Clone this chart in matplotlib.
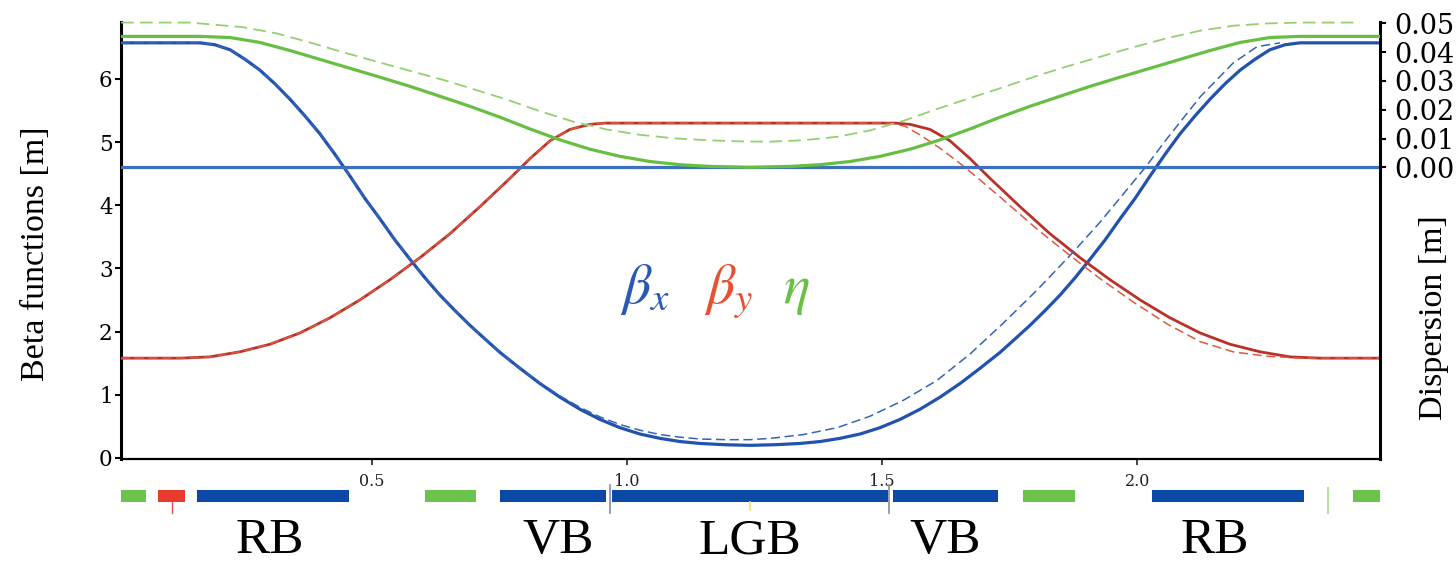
import matplotlib
matplotlib.use("Agg")
import matplotlib.pyplot as plt

# ---------------- data ----------------
# beta_x (solid)
s_bx = [0.008, 0.084, 0.163, 0.192, 0.222, 0.251, 0.280, 0.310, 0.339, 0.369, 0.398, 0.427,
        0.457, 0.486, 0.516, 0.545, 0.575, 0.604, 0.633, 0.663, 0.692, 0.722, 0.751, 0.790,
        0.829, 0.869, 0.908, 0.947, 0.986, 1.025, 1.065, 1.104, 1.143, 1.192, 1.241,
        1.290, 1.339, 1.378, 1.417, 1.457, 1.496, 1.535, 1.574, 1.613, 1.653, 1.692, 1.731,
        1.760, 1.790, 1.819, 1.849, 1.878, 1.907, 1.937, 1.966, 1.996, 2.025, 2.055, 2.084,
        2.113, 2.143, 2.172, 2.202, 2.231, 2.260, 2.290, 2.319, 2.398, 2.474]
beta_x = [6.57, 6.57, 6.57, 6.54, 6.46, 6.31, 6.14, 5.92, 5.68, 5.41, 5.13, 4.81,
          4.46, 4.11, 3.78, 3.45, 3.14, 2.85, 2.58, 2.33, 2.10, 1.88, 1.67, 1.42,
          1.18, 0.96, 0.77, 0.61, 0.48, 0.38, 0.31, 0.26, 0.23, 0.21, 0.20,
          0.21, 0.23, 0.26, 0.31, 0.38, 0.48, 0.61, 0.77, 0.96, 1.18, 1.42, 1.67,
          1.88, 2.10, 2.33, 2.58, 2.85, 3.14, 3.45, 3.78, 4.11, 4.46, 4.81, 5.13,
          5.41, 5.68, 5.92, 6.14, 6.31, 6.46, 6.54, 6.57, 6.57, 6.57]

# beta_x (dashed)
s_bx_d = [0.008, 0.084, 0.163, 0.192, 0.222, 0.251, 0.280, 0.310, 0.339, 0.369, 0.398, 0.427,
          0.457, 0.486, 0.516, 0.545, 0.575, 0.604, 0.633, 0.663, 0.692, 0.722, 0.751, 0.790,
          0.829, 0.869, 0.908, 0.947, 0.986, 1.025, 1.065, 1.104, 1.143, 1.192, 1.241,
          1.280, 1.345, 1.412, 1.476, 1.541, 1.608, 1.673, 1.737, 1.804, 1.869, 1.927,
          1.971, 2.016, 2.059, 2.124, 2.188, 2.235, 2.280]
beta_x_d = [6.57, 6.57, 6.57, 6.54, 6.46, 6.31, 6.14, 5.92, 5.68, 5.41, 5.13, 4.81,
            4.46, 4.11, 3.78, 3.45, 3.14, 2.85, 2.58, 2.33, 2.10, 1.88, 1.67, 1.42,
            1.19, 0.98, 0.80, 0.65, 0.53, 0.44, 0.37, 0.33, 0.30, 0.29, 0.29,
            0.31, 0.37, 0.48, 0.66, 0.91, 1.23, 1.65, 2.13, 2.66, 3.21, 3.73,
            4.16, 4.60, 5.06, 5.72, 6.25, 6.51, 6.57]

# beta_y (solid)
s_by = [0.008, 0.124, 0.182, 0.241, 0.300, 0.359, 0.418, 0.476, 0.535, 0.594, 0.653, 0.712,
        0.771, 0.810, 0.849, 0.888, 0.927, 0.957, 1.241,
        1.525, 1.555, 1.594, 1.633, 1.672, 1.711, 1.770, 1.829, 1.888, 1.947, 2.006, 2.064,
        2.123, 2.182, 2.241, 2.300, 2.358, 2.474]
beta_y = [1.58, 1.58, 1.60, 1.68, 1.80, 1.98, 2.22, 2.50, 2.82, 3.17, 3.55, 3.98,
          4.43, 4.74, 5.02, 5.20, 5.28, 5.30, 5.30,
          5.30, 5.28, 5.20, 5.02, 4.74, 4.43, 3.98, 3.55, 3.17, 2.82, 2.50, 2.22,
          1.98, 1.80, 1.68, 1.60, 1.58, 1.58]

# beta_y (dashed)
s_by_d = [0.008, 0.124, 0.182, 0.241, 0.300, 0.359, 0.418, 0.476, 0.535, 0.594, 0.653, 0.712,
          0.771, 0.810, 0.849, 0.888, 0.927, 0.957, 1.241,
          1.516, 1.545, 1.575, 1.614, 1.653, 1.692, 1.737, 1.804, 1.869, 1.927, 1.992,
          2.059, 2.124, 2.188, 2.255, 2.320, 2.474]
beta_y_d = [1.58, 1.58, 1.60, 1.68, 1.80, 1.98, 2.22, 2.50, 2.82, 3.17, 3.55, 3.98,
            4.43, 4.74, 5.02, 5.20, 5.28, 5.30, 5.30,
            5.30, 5.25, 5.11, 4.90, 4.66, 4.40, 4.09, 3.62, 3.20, 2.84, 2.47,
            2.12, 1.84, 1.68, 1.61, 1.58, 1.58]

# dispersion eta (solid)
s_eta = [0.008, 0.163, 0.222, 0.280, 0.339, 0.398, 0.457, 0.516, 0.575, 0.633, 0.692, 0.751,
         0.810, 0.869, 0.927, 0.986, 1.045, 1.104, 1.163, 1.241,
         1.319, 1.378, 1.437, 1.496, 1.555, 1.613, 1.672, 1.731, 1.790, 1.849, 1.907, 1.966,
         2.025, 2.084, 2.143, 2.202, 2.260, 2.319, 2.474]
eta = [0.0455, 0.0455, 0.0451, 0.0434, 0.0406, 0.0375, 0.0344, 0.0313, 0.0281, 0.0247, 0.0212,
       0.0174, 0.0133, 0.0095, 0.0063, 0.0038, 0.0020, 0.0009, 0.0003, 0.0,
       0.0003, 0.0009, 0.0020, 0.0038, 0.0063, 0.0095, 0.0133, 0.0174, 0.0212, 0.0247, 0.0281,
       0.0313, 0.0344, 0.0375, 0.0406, 0.0434, 0.0451, 0.0455, 0.0455]

# dispersion eta (dashed)
s_eta_d = [0.008, 0.143, 0.247, 0.314, 0.378, 0.443, 0.510, 0.575, 0.643, 0.698, 0.765, 0.829,
           0.894, 0.961, 1.025, 1.090, 1.157, 1.222, 1.280, 1.345, 1.412, 1.476, 1.541, 1.608,
           1.673, 1.737, 1.804, 1.869, 1.937, 1.992, 2.059, 2.124, 2.188, 2.255, 2.320, 2.437]
eta_d = [0.0503, 0.0503, 0.0487, 0.0465, 0.0434, 0.0400, 0.0367, 0.0335, 0.0302, 0.0272,
         0.0235, 0.0195, 0.0159, 0.0131, 0.0113, 0.0101, 0.0094, 0.0090, 0.0089, 0.0094,
         0.0106, 0.0128, 0.0161, 0.0203, 0.0241, 0.0278, 0.0318, 0.0354, 0.0389, 0.0417,
         0.0449, 0.0475, 0.0492, 0.0500, 0.0503, 0.0503]

# lattice elements
elem_start = [0.008, 0.080, 0.157, 0.604, 0.751, 0.971, 1.522, 1.776, 2.029, 2.424]
elem_end = [0.057, 0.133, 0.455, 0.704, 0.959, 1.512, 1.727, 1.878, 2.327, 2.476]
elem_kind = ["g", "r", "b", "g", "b", "b", "b", "g", "b", "g"]
marker_pos = [0.107, 0.967, 1.514, 1.241, 2.375]
marker_kind = ["r", "k", "k", "y", "lg"]
elem_labels = ["RB", "VB", "LGB", "VB", "RB"]
elem_label_pos = [0.300, 0.865, 1.241, 1.624, 2.153]

x_ticks = [0.5, 1.0, 1.5, 2.0]
x_ticklabels = ["0.5", "1.0", "1.5", "2.0"]
beta_ticks = [0, 1, 2, 3, 4, 5, 6]
eta_ticks = [0.0, 0.01, 0.02, 0.03, 0.04, 0.05]
eta_ticklabels = ["0.00", "0.01", "0.02", "0.03", "0.04", "0.05"]

# ---------------- styling ----------------
C_BX = "#2152ae"
C_BX_D = "#3563b8"
C_BY = "#b8322a"
C_BY_D = "#e2573f"
C_ETA = "#67bf42"
C_ETA_D = "#93d070"
C_ZERO = "#3e70c0"
EL_COL = {"g": "#6cc24a", "r": "#e63b2e", "b": "#0b49a6"}
MK_COL = {"r": "#e05040", "k": "#8090a0", "y": "#f0e060", "lg": "#b8e0a0"}

plt.rcParams['mathtext.fontset'] = 'stix'
SERIF = ["Liberation Serif", "DejaVu Serif"]
TICKF = ["DejaVu Serif"]

W, H = 1456, 569
fig = plt.figure(figsize=(W / 100, H / 100), dpi=100)
L, R, B, T = 121 / W, 1380 / W, 1 - 459 / H, 1 - 22 / H
ax = fig.add_axes([L, B, R - L, T - B])
ax2 = ax.twinx()

XMIN, XMAX = 0.008, 2.476
ax.set_xlim(XMIN, XMAX)
ax.set_ylim(-0.016, 6.9)
ax2.set_ylim(-0.1014, 0.0505)

# beta functions
ax.plot(s_bx, beta_x, color=C_BX, lw=2.3, solid_capstyle='butt', solid_joinstyle='round', zorder=3)
ax.plot(s_by, beta_y, color=C_BY, lw=2.0, solid_capstyle='butt', solid_joinstyle='round', zorder=3)
ax.plot(s_by_d, beta_y_d, color=C_BY_D, lw=1.1, dashes=(6, 3), zorder=4)
ax.plot(s_bx_d, beta_x_d, color=C_BX_D, lw=1.1, dashes=(6, 3), zorder=4)

# dispersion
ax2.axhline(0.0, color=C_ZERO, lw=2.3, zorder=2)
ax2.plot(s_eta, eta, color=C_ETA, lw=2.3, solid_joinstyle='round', zorder=3)
ax2.plot(s_eta_d, eta_d, color=C_ETA_D, lw=1.3, dashes=(7, 3.5), zorder=3, clip_on=False)

# spines
for a in (ax, ax2):
    a.spines['top'].set_visible(False)
ax.spines['right'].set_visible(False)
ax2.spines['left'].set_visible(False)
ax2.spines['bottom'].set_visible(False)
ax.spines['left'].set_linewidth(2.2)
ax.spines['bottom'].set_linewidth(1.6)
ax2.spines['right'].set_linewidth(2.2)

# ticks
ax.set_xticks(x_ticks)
ax.set_xticklabels(x_ticklabels, fontfamily=TICKF, fontsize=11.5)
ax.tick_params(axis='x', direction='out', length=4, width=1.2, pad=6, colors='#222222')
ax.set_yticks(beta_ticks)
ax.set_yticklabels([str(v) for v in beta_ticks], fontfamily=TICKF, fontsize=15.5)
ax.tick_params(axis='y', direction='out', length=4, width=1.5, pad=2)
ax2.set_yticks(eta_ticks)
ax2.set_yticklabels(eta_ticklabels, fontfamily=TICKF, fontsize=19.5)
ax2.tick_params(axis='y', direction='out', length=4, width=1.5, pad=6)

# axis labels
fig.text(36 / W, 1 - 254 / H, "Beta functions [m]", rotation=90, ha='center', va='center',
         fontfamily=SERIF, fontsize=24.5)
fig.text(1434 / W, 1 - 318 / H, "Dispersion [m]", rotation=90, ha='center', va='center',
         fontfamily=SERIF, fontsize=24.5)

# legend-like symbols
ax.text(1.035, 2.45, r"$\beta_x$", color="#2a58b4", fontsize=40, ha='center', va='baseline')
ax.text(1.198, 2.45, r"$\beta_y$", color="#e8502f", fontsize=40, ha='center', va='baseline')
ax.text(1.332, 2.45, r"$\eta$", color="#6cbf45", fontsize=40, ha='center', va='baseline')

# lattice element strip
axe = fig.add_axes([L, 0, R - L, 99 / H], sharex=ax)
axe.set_ylim(99, 0)
axe.axis('off')
axe.patch.set_visible(False)
for s0, s1, k in zip(elem_start, elem_end, elem_kind):
    axe.add_patch(plt.Rectangle((s0, 20), s1 - s0, 12, color=EL_COL[k], lw=0, clip_on=False))
for p, k in zip(marker_pos, marker_kind):
    if k == "r":
        axe.plot([p, p], [32, 43], color=MK_COL[k], lw=1.0, clip_on=False)
    elif k == "k":
        axe.plot([p, p], [15, 43], color=MK_COL[k], lw=1.2, clip_on=False, zorder=5)
    elif k == "y":
        axe.plot([p, p], [32, 40], color=MK_COL[k], lw=1.2, clip_on=False)
    else:
        axe.plot([p, p], [18, 43], color=MK_COL[k], lw=1.5, clip_on=False)
for lab, p in zip(elem_labels, elem_label_pos):
    axe.text(p, 83, lab, ha='center', va='baseline', fontfamily=SERIF, fontsize=37,
             clip_on=False)
axe.set_xlim(XMIN, XMAX)

fig.savefig("out.png", dpi=100)
